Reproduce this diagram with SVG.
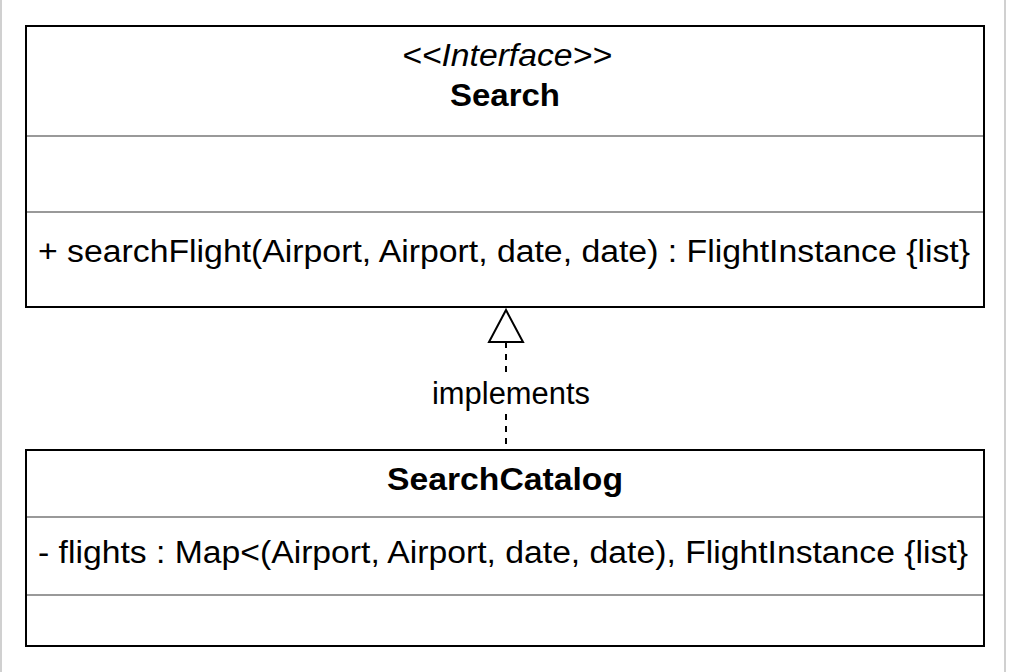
<svg xmlns="http://www.w3.org/2000/svg" width="1012" height="672" viewBox="0 0 1012 672">
<style>
.box{fill:#fff;stroke:#000;stroke-width:2}
.sep{stroke:#999;stroke-width:2}
text{font-family:"Liberation Sans",Arial,sans-serif;font-size:31px;fill:#000}
.b{font-weight:bold;font-size:32px}
.i{font-style:italic}
</style>
<rect x="0" y="0" width="1012" height="672" fill="#fff"/>
<rect x="1" y="-2" width="1004" height="676" fill="none" stroke="#d0d0d0" stroke-width="2"/>
<g id="search">
<rect class="box" x="26" y="26" width="958" height="281"/>
<line class="sep" x1="27" y1="136" x2="983" y2="136"/>
<line class="sep" x1="27" y1="212" x2="983" y2="212"/>
<text class="i" x="402" y="66" textLength="210" lengthAdjust="spacingAndGlyphs">&lt;&lt;Interface&gt;&gt;</text>
<text class="b" x="450" y="106" textLength="110" lengthAdjust="spacingAndGlyphs">Search</text>
<text x="38" y="262" textLength="932" lengthAdjust="spacingAndGlyphs">+ searchFlight(Airport, Airport, date, date) : FlightInstance {list}</text>
</g>
<g id="searchcatalog">
<rect class="box" x="26" y="450" width="958" height="196"/>
<line class="sep" x1="27" y1="517" x2="983" y2="517"/>
<line class="sep" x1="27" y1="595" x2="983" y2="595"/>
<text class="b" x="387" y="490" textLength="236" lengthAdjust="spacingAndGlyphs">SearchCatalog</text>
<text x="38" y="563" textLength="930" lengthAdjust="spacingAndGlyphs">- flights : Map&lt;(Airport, Airport, date, date), FlightInstance {list}</text>
</g>
<g id="connectors">
<line x1="506" y1="342" x2="506" y2="449" stroke="#000" stroke-width="2" stroke-dasharray="6 6"/>
<polygon points="506,310 489,342 523,342" fill="#fff" stroke="#000" stroke-width="2"/>
<rect x="432" y="377" width="158" height="32" fill="#fff"/>
<text x="432" y="404" textLength="158" lengthAdjust="spacingAndGlyphs">implements</text>
</g>
</svg>
